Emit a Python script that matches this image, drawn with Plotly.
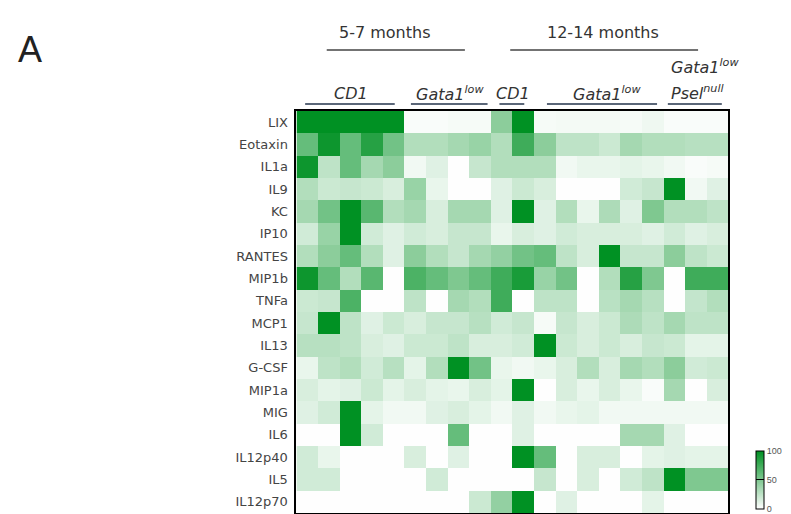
import plotly.graph_objects as go

# Cytokine panel (rows, top to bottom)
cytokines = ["LIX", "Eotaxin", "IL1a", "IL9", "KC", "IP10", "RANTES", "MIP1b", "TNFa",
             "MCP1", "IL13", "G-CSF", "MIP1a", "MIG", "IL6", "IL12p40", "IL5", "IL12p70"]

# Individual mice (columns): 5-7 months CD1 x5, Gata1low x4; 12-14 months CD1 x2, Gata1low x6, Gata1low/Pselnull x3
samples = ["CD1 5-7m #1", "CD1 5-7m #2", "CD1 5-7m #3", "CD1 5-7m #4", "CD1 5-7m #5",
           "Gata1low 5-7m #1", "Gata1low 5-7m #2", "Gata1low 5-7m #3", "Gata1low 5-7m #4",
           "CD1 12-14m #1", "CD1 12-14m #2",
           "Gata1low 12-14m #1", "Gata1low 12-14m #2", "Gata1low 12-14m #3",
           "Gata1low 12-14m #4", "Gata1low 12-14m #5", "Gata1low 12-14m #6",
           "Gata1low/Pselnull #1", "Gata1low/Pselnull #2", "Gata1low/Pselnull #3"]

# Relative level (0-100) per cytokine, one value per mouse
lix      = [100, 100, 100, 100, 100, 2, 2, 3, 3, 45, 100, 3, 4, 4, 4, 3, 6, 2, 2, 2]
eotaxin  = [60, 95, 60, 85, 55, 30, 30, 35, 40, 30, 75, 45, 25, 25, 20, 35, 30, 30, 28, 28]
il1a     = [95, 25, 60, 35, 45, 5, 12, 0, 22, 30, 30, 30, 5, 8, 8, 10, 8, 5, 2, 3]
il9      = [30, 20, 22, 20, 15, 40, 8, 0, 0, 12, 20, 15, 0, 0, 0, 18, 22, 100, 5, 12]
kc       = [35, 55, 100, 65, 30, 35, 15, 35, 35, 12, 100, 12, 30, 8, 32, 12, 50, 30, 30, 25]
ip10     = [18, 40, 100, 18, 12, 18, 15, 22, 22, 8, 15, 12, 18, 15, 15, 15, 12, 18, 12, 15]
rantes   = [30, 45, 60, 30, 12, 45, 30, 22, 35, 42, 55, 60, 25, 15, 100, 22, 22, 45, 25, 20]
mip1b    = [95, 60, 30, 65, 0, 70, 60, 50, 60, 75, 90, 40, 55, 0, 30, 85, 50, 0, 75, 75]
tnfa     = [20, 22, 70, 0, 0, 25, 0, 35, 30, 75, 0, 25, 25, 0, 27, 35, 28, 0, 23, 30]
mcp1     = [22, 100, 25, 12, 20, 15, 22, 22, 28, 18, 22, 3, 22, 15, 20, 32, 25, 35, 25, 25]
il13     = [28, 28, 25, 15, 12, 20, 20, 25, 15, 15, 18, 100, 20, 15, 20, 15, 22, 20, 10, 10]
g_csf    = [8, 25, 30, 18, 28, 10, 30, 100, 55, 8, 5, 8, 15, 30, 15, 35, 30, 45, 18, 20]
mip1a    = [15, 10, 12, 20, 10, 15, 10, 8, 15, 10, 100, 0, 15, 8, 15, 8, 2, 35, 0, 15]
mig      = [12, 18, 100, 10, 5, 5, 12, 15, 10, 5, 12, 5, 8, 10, 5, 5, 5, 5, 5, 5]
il6      = [0, 0, 100, 18, 0, 0, 0, 60, 0, 0, 12, 0, 0, 0, 0, 35, 35, 12, 0, 0]
il12p40  = [18, 8, 0, 0, 0, 15, 0, 12, 0, 0, 100, 60, 0, 15, 15, 0, 10, 12, 10, 10]
il5      = [18, 18, 0, 0, 0, 0, 18, 0, 0, 0, 0, 22, 0, 15, 0, 18, 25, 100, 50, 50]
il12p70  = [0, 0, 0, 0, 0, 0, 0, 0, 20, 42, 100, 0, 12, 0, 0, 0, 10, 0, 0, 0]

levels = [lix, eotaxin, il1a, il9, kc, ip10, rantes, mip1b, tnfa, mcp1,
          il13, g_csf, mip1a, mig, il6, il12p40, il5, il12p70]

# Column headers
age_labels = ["5-7 months", "12-14 months"]
group_labels = ["<i>CD1</i>", "<i>Gata1<sup>low</sup></i>", "<i>CD1</i>", "<i>Gata1<sup>low</sup></i>"]
double_mutant_label = ["<i>Gata1<sup>low</sup></i>", "<i>Psel<sup>null</sup></i>"]
colorbar_ticks = [0, 50, 100]

W, H = 791, 514
GREEN = "rgb(0,145,35)"


def py(px):
    """Convert a pixel row (from the top) to paper coordinates."""
    return (H - px) / H


fig = go.Figure(go.Heatmap(
    z=levels, x=samples, y=cytokines,
    zmin=-0.5, zmax=100,
    colorscale=[[0, "white"], [1, GREEN]],
    colorbar=dict(
        x=760 / W, xanchor="left", y=py(480), yanchor="middle",
        len=58, lenmode="pixels", thickness=8, thicknessmode="pixels",
        xpad=0, ypad=0, outlinewidth=1, outlinecolor="black",
        tickvals=colorbar_ticks, ticktext=[str(v) for v in colorbar_ticks],
        ticks="inside", ticklen=8, tickcolor="black", tickwidth=1.2,
        tickfont=dict(family="Liberation Sans", size=9, color="#555"),
    ),
    showscale=True,
))

fig.update_layout(
    width=W, height=H,
    margin=dict(l=0, r=0, t=0, b=0),
    paper_bgcolor="white", plot_bgcolor="white",
    xaxis=dict(domain=[298 / W, 732 / W], showticklabels=False, ticks="",
               showgrid=False, zeroline=False, showline=True, mirror=True,
               linecolor="black", linewidth=2),
    yaxis=dict(domain=[py(513), py(111)], autorange="reversed", showgrid=False,
               zeroline=False, showline=True, mirror=True, linecolor="black",
               linewidth=2, ticks="", ticklabelstandoff=4,
               tickfont=dict(family="DejaVu Sans", size=13, color="#444")),
    font=dict(family="DejaVu Sans"),
)

# Panel letter
fig.add_annotation(text="A", x=30 / W, y=py(50), xref="paper", yref="paper",
                   showarrow=False, xanchor="center", yanchor="middle",
                   font=dict(family="Liberation Sans", size=36, color="#222"))

# Age headers with rules beneath
age_centers = [386, 606]
age_rules = [(0.9, 7.3), (9.4, 18.1)]
for label, cx, (a, b) in zip(age_labels, age_centers, age_rules):
    fig.add_annotation(text=label, x=cx / W, y=py(32), xref="paper", yref="paper",
                       showarrow=False, xanchor="center", yanchor="middle",
                       font=dict(size=16, color="#333"))
    fig.add_shape(type="line", xref="x", yref="paper", x0=a, x1=b,
                  y0=py(50), y1=py(50), line=dict(color="#444", width=1.5))

# Genotype labels with underlines
group_centers = [353, 452, 516, 610]
for label, cx in zip(group_labels, group_centers):
    fig.add_annotation(text=label, x=cx / W, y=py(93), xref="paper", yref="paper",
                       showarrow=False, xanchor="center", yanchor="middle",
                       font=dict(size=16, color="#333"))
fig.add_annotation(text=double_mutant_label[0], x=672 / W, y=py(66), xref="paper",
                   yref="paper", showarrow=False, xanchor="left", yanchor="middle",
                   font=dict(size=16, color="#333"))
fig.add_annotation(text=double_mutant_label[1], x=672 / W, y=py(92), xref="paper",
                   yref="paper", showarrow=False, xanchor="left", yanchor="middle",
                   font=dict(size=16, color="#333"))

group_rules = [(-0.1, 4.05), (4.8, 8.35), (8.9, 10.05), (11.1, 16.2), (16.7, 19.2)]
for a, b in group_rules:
    fig.add_shape(type="line", xref="x", yref="paper", x0=a, x1=b,
                  y0=py(104), y1=py(104), line=dict(color="#5a6678", width=2))

fig.write_html("out.html")
